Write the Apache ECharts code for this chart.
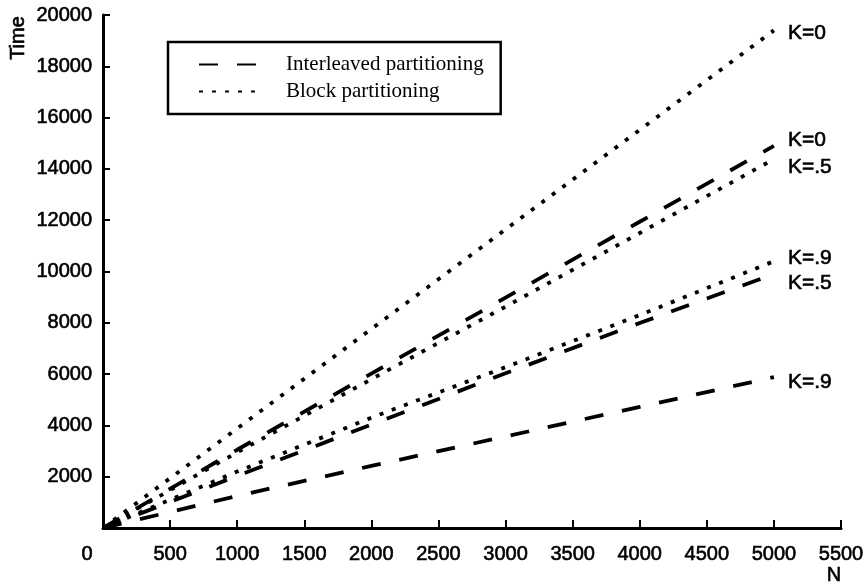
<!DOCTYPE html>
<html>
<head>
<meta charset="utf-8">
<script src="https://cdn.jsdelivr.net/npm/echarts@6/dist/echarts.min.js"></script>
<style>
  html, body {margin: 0; padding: 0; background: #fff;}
  #chart {width: 864px; height: 585px;}
</style>
</head>
<body>
<div id="chart"></div>
<script>
/*数据*/
var nValues = [0, 1000, 2000, 3000, 4000, 5000];
var blockK0 = [0, 3880, 7760, 11640, 15520, 19400];
var interK0 = [0, 3050, 6020, 8980, 11940, 14900];
var blockK5 = [0, 2950, 5800, 8630, 11500, 14380];
var blockK9 = [0, 2200, 4300, 6270, 8300, 10400];
var interK5 = [0, 2030, 4030, 6030, 7990, 9900];
var interK9 = [0, 1250, 2420, 3570, 4720, 5880];
var legendNames = ['Interleaved partitioning', 'Block partitioning'];

var sans = '"Liberation Sans", Arial, sans-serif';
var serif = '"Liberation Serif", "Times New Roman", serif';
var dashType = [19, 19];
var dotType = [4, 9];
//扫描稿的字比较粗，加一点描边
var heavy = {textBorderColor: '#000', textBorderWidth: 0.6};

function pairs(ys) {
  var arr = [];
  for (var i = 0; i < nValues.length; i++) {
    arr.push([nValues[i], ys[i]]);
  }
  return arr;
}

/*生成一条线*/
function makeLine(name, ys, dash, label, dy) {
  return {
    name: name,
    type: 'line',
    symbol: 'none',
    silent: true,
    data: pairs(ys),
    itemStyle: {color: '#000'},
    lineStyle: {color: '#000', width: 3.8, type: dash, cap: 'butt'},
    endLabel: $.extend({
      show: true,
      formatter: label,
      distance: 14,
      offset: [0, dy],
      color: '#000',
      fontSize: 21,
      fontFamily: sans
    }, heavy)
  };
}

var $ = {
  extend: function (a, b) {
    for (var k in b) a[k] = b[k];
    return a;
  }
};

var chart = echarts.init(document.getElementById('chart'));
var option = {
  animation: false,
  backgroundColor: '#fff',
  grid: {left: 103, right: 23, top: 15, bottom: 57, containLabel: false, outerBoundsMode: 'none'},
  legend: {
    data: legendNames,
    orient: 'vertical',
    left: 168,
    top: 42,
    padding: [12, 17, 12, 30],
    itemGap: 6,
    itemWidth: 59,
    itemHeight: 14,
    borderColor: '#000',
    borderWidth: 2.5,
    selectedMode: false,
    itemStyle: {opacity: 0},
    textStyle: {
      color: '#000',
      fontSize: 21,
      fontFamily: serif,
      padding: [0, 0, 0, 23]
    }
  },
  xAxis: {
    type: 'value',
    min: 0,
    max: 5500,
    interval: 500,
    axisLine: {show: true, onZero: false, lineStyle: {color: '#000', width: 3}},
    axisTick: {show: true, inside: true, length: 8, lineStyle: {color: '#000', width: 2}},
    splitLine: {show: false},
    axisLabel: $.extend({
      margin: 16,
      color: '#000',
      fontSize: 20,
      fontFamily: sans,
      formatter: function (v) {
        return v === 0 ? '{z|0}' : String(v);
      },
      rich: {
        z: {fontSize: 20, fontFamily: sans, color: '#000', textBorderColor: '#000', textBorderWidth: 0.6, padding: [0, 32, 0, 0]}
      }
    }, heavy)
  },
  yAxis: {
    type: 'value',
    min: 0,
    max: 20000,
    interval: 2000,
    axisLine: {show: true, onZero: false, lineStyle: {color: '#000', width: 3}},
    axisTick: {show: true, inside: true, length: 7, lineStyle: {color: '#000', width: 2}},
    splitLine: {show: false},
    axisLabel: $.extend({
      margin: 11,
      color: '#000',
      fontSize: 20,
      fontFamily: sans,
      showMinLabel: false,
      formatter: function (v) {
        return String(v);
      }
    }, heavy)
  },
  graphic: [
    {
      type: 'text',
      x: 18,
      y: 38,
      rotation: Math.PI / 2,
      silent: true,
      style: {text: 'Time', align: 'center', verticalAlign: 'middle', fill: '#000', stroke: '#000', lineWidth: 0.6, font: '20px ' + sans}
    },
    {
      type: 'text',
      x: 834,
      y: 575,
      silent: true,
      style: {text: 'N', align: 'center', verticalAlign: 'middle', fill: '#000', stroke: '#000', lineWidth: 0.6, font: '20px ' + sans}
    }
  ],
  series: [
    makeLine(legendNames[1], blockK0, dotType, 'K=0', 3),
    makeLine(legendNames[0], interK0, dashType, 'K=0', -6),
    makeLine(legendNames[1], blockK5, dotType, 'K=.5', 8),
    makeLine(legendNames[1], blockK9, dotType, 'K=.9', -3),
    makeLine(legendNames[0], interK5, dashType, 'K=.5', 9),
    makeLine(legendNames[0], interK9, dashType, 'K=.9', 5)
  ]
};
chart.setOption(option);
</script>
</body>
</html>
